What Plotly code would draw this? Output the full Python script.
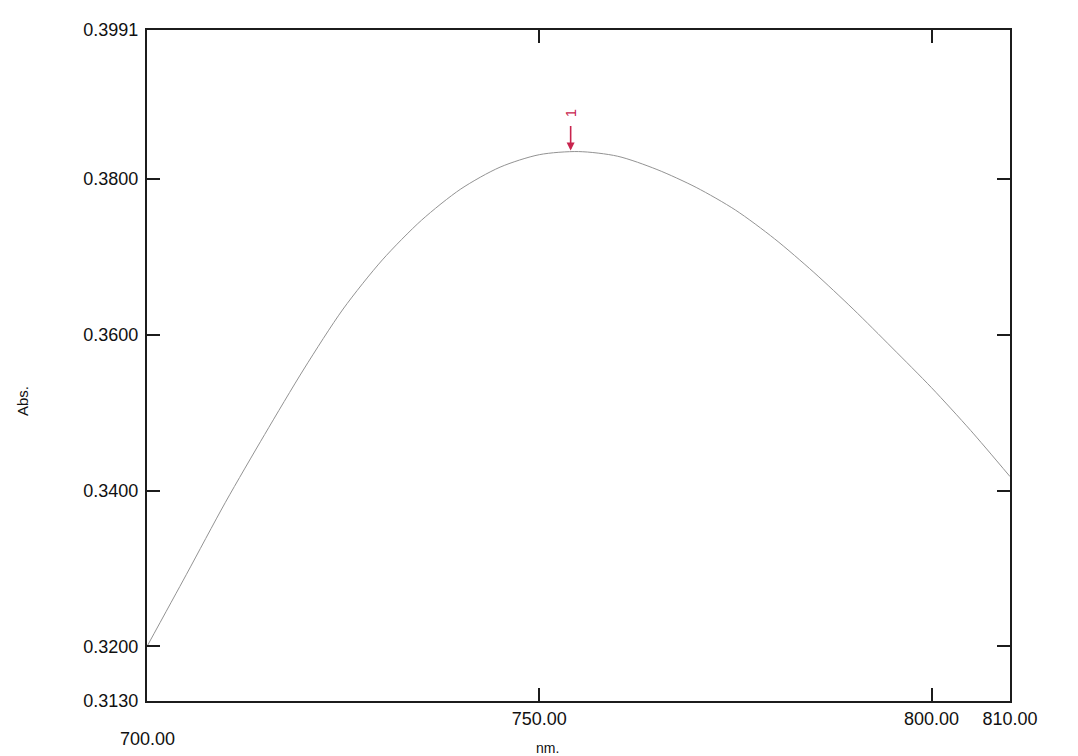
import plotly.graph_objects as go

# Wavelength (nm) and absorbance
wavelength = [700, 705, 710, 715, 720, 725, 730, 735, 740, 745, 750, 755,
              760, 765, 770, 775, 780, 785, 790, 795, 800, 805, 810]
absorbance = [0.3200, 0.3292, 0.3385, 0.3472, 0.3556, 0.3633, 0.3696, 0.3747,
              0.3787, 0.3815, 0.3831, 0.3835, 0.3829, 0.3812, 0.3789, 0.3760,
              0.3723, 0.3680, 0.3633, 0.3583, 0.3532, 0.3477, 0.3418]

peak_nm = 754.0
peak_abs = 0.3835
peak_label = "1"

x_min, x_max = 700.0, 810.0
y_min, y_max = 0.3130, 0.3991
x_ticks = [750, 800, 810]
x_ticktext = ["750.00", "800.00", "810.00"]
y_ticks = [0.3130, 0.3200, 0.3400, 0.3600, 0.3800, 0.3991]
y_ticktext = ["0.3130", "0.3200", "0.3400", "0.3600", "0.3800", "0.3991"]

FONT = "Liberation Sans, Arial, sans-serif"
FRAME = "#1c1c1c"
MARK = "#c8244e"
TEXT = "#111111"

fig = go.Figure()
fig.add_trace(go.Scatter(
    x=wavelength, y=absorbance, mode="lines",
    line=dict(color="#939393", width=1, shape="spline", smoothing=0.8),
    hoverinfo="skip", showlegend=False,
))

fig.add_annotation(x=peak_nm, y=peak_abs, xref="x", yref="y", text="",
                   showarrow=True, ax=0, ay=-27, arrowhead=2, arrowsize=1,
                   arrowwidth=1.6, arrowcolor=MARK, standoff=1)
fig.add_annotation(x=peak_nm, y=peak_abs, xref="x", yref="y", text=peak_label,
                   showarrow=False, textangle=-90, yshift=38,
                   font=dict(family=FONT, size=15, color=MARK))

fig.add_annotation(x=x_min, y=0, xref="x", yref="paper", text="700.00",
                   showarrow=False, yanchor="top", xanchor="center", yshift=-26,
                   font=dict(family=FONT, size=18, color=TEXT))
fig.add_annotation(x=751, y=0, xref="x", yref="paper", text="nm.",
                   showarrow=False, yanchor="top", xanchor="center", yshift=-37,
                   font=dict(family=FONT, size=14, color=TEXT))
fig.add_annotation(x=0, y=0.447, xref="paper", yref="paper", text="Abs.",
                   showarrow=False, textangle=-90, xanchor="center",
                   yanchor="middle", xshift=-125,
                   font=dict(family=FONT, size=15, color=TEXT))

fig.update_xaxes(range=[x_min, x_max], tickvals=x_ticks, ticktext=x_ticktext,
                 ticks="inside", ticklen=13, tickwidth=2, tickcolor=FRAME,
                 showline=True, linecolor=FRAME, linewidth=2, mirror="ticks",
                 showgrid=False, zeroline=False,
                 tickfont=dict(family=FONT, size=18, color=TEXT))
fig.update_yaxes(range=[y_min, y_max], tickvals=y_ticks, ticktext=y_ticktext,
                 ticks="inside", ticklen=13, tickwidth=2, tickcolor=FRAME,
                 showline=True, linecolor=FRAME, linewidth=2, mirror="ticks",
                 showgrid=False, zeroline=False, ticklabelstandoff=3,
                 tickfont=dict(family=FONT, size=18, color=TEXT))

# The page body adds an 8px margin, so the figure is sized to sit inside it.
fig.update_layout(
    width=1070, height=748,
    margin=dict(l=139, r=68, t=19, b=55),
    paper_bgcolor="white", plot_bgcolor="white",
    showlegend=False,
)

fig.write_html("out.html")
